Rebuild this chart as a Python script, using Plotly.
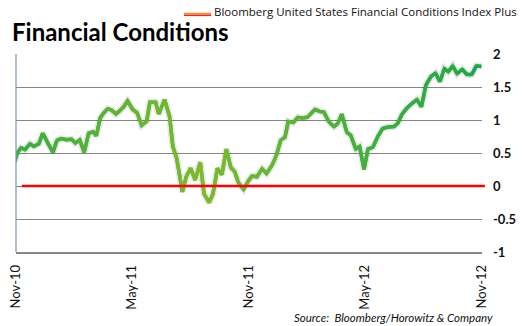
import plotly.graph_objects as go

# Bloomberg US Financial Conditions Index Plus, weekly readings
dates = [
    "2010-10-30", "2010-11-03", "2010-11-09", "2010-11-15", "2010-11-23", "2010-11-29",
    "2010-12-07", "2010-12-13", "2010-12-21", "2010-12-29", "2011-01-04", "2011-01-11",
    "2011-01-19", "2011-01-27", "2011-02-02", "2011-02-09", "2011-02-16", "2011-02-23",
    "2011-03-02", "2011-03-07", "2011-03-13", "2011-03-18", "2011-03-25", "2011-03-31",
    "2011-04-07", "2011-04-14", "2011-04-19", "2011-04-25", "2011-05-03", "2011-05-10",
    "2011-05-17", "2011-05-25", "2011-05-30", "2011-06-08", "2011-06-13", "2011-06-22",
    "2011-06-30", "2011-07-05", "2011-07-11", "2011-07-16", "2011-07-20", "2011-07-26",
    "2011-08-02", "2011-08-09", "2011-08-17", "2011-08-23", "2011-08-31", "2011-09-06",
    "2011-09-13", "2011-09-20", "2011-09-27", "2011-10-04", "2011-10-10", "2011-10-16",
    "2011-10-24", "2011-10-31", "2011-11-06", "2011-11-14", "2011-11-22", "2011-11-29",
    "2011-12-08", "2011-12-15", "2011-12-21", "2011-12-28", "2012-01-02", "2012-01-10",
    "2012-01-17", "2012-01-24", "2012-02-01", "2012-02-07", "2012-02-13", "2012-02-20",
    "2012-02-27", "2012-03-06", "2012-03-14", "2012-03-20", "2012-03-26", "2012-04-03",
    "2012-04-09", "2012-04-17", "2012-04-23", "2012-04-30", "2012-05-06", "2012-05-14",
    "2012-05-21", "2012-05-29", "2012-06-05", "2012-06-16", "2012-06-22", "2012-06-28",
    "2012-07-06", "2012-07-14", "2012-07-22", "2012-07-29", "2012-08-05", "2012-08-13",
    "2012-08-20", "2012-08-27", "2012-09-03", "2012-09-09", "2012-09-16", "2012-09-23",
    "2012-10-01", "2012-10-08", "2012-10-16", "2012-10-23", "2012-10-31",
]
index_values = [
    0.37, 0.50, 0.58, 0.55, 0.64, 0.60,
    0.64, 0.80, 0.65, 0.51, 0.69, 0.72,
    0.70, 0.71, 0.65, 0.70, 0.51, 0.80,
    0.82, 0.76, 1.03, 1.10, 1.17, 1.15,
    1.09, 1.15, 1.20, 1.29, 1.16, 1.11,
    0.92, 0.98, 1.27, 1.27, 1.09, 1.31,
    1.05, 0.60, 0.42, 0.14, -0.09, 0.14,
    0.27, 0.09, 0.36, -0.12, -0.25, -0.12,
    0.27, 0.17, 0.56, 0.28, 0.22, 0.05,
    -0.05, 0.07, 0.15, 0.14, 0.26, 0.19,
    0.32, 0.48, 0.69, 0.74, 0.98, 0.96,
    1.04, 1.03, 1.04, 1.10, 1.16, 1.13,
    1.12, 0.97, 0.90, 0.95, 1.09, 0.81,
    0.77, 0.56, 0.60, 0.25, 0.56, 0.59,
    0.74, 0.87, 0.89, 0.90, 0.95, 1.08,
    1.18, 1.25, 1.31, 1.20, 1.53, 1.66,
    1.71, 1.58, 1.78, 1.73, 1.82, 1.70,
    1.77, 1.69, 1.69, 1.82, 1.81,
]

tick_dates = ["2010-11-01", "2011-05-01", "2011-11-01", "2012-05-01", "2012-11-01"]
tick_labels = ["Nov-10", "May-11", "Nov-11", "May-12", "Nov-12"]
y_ticks = [2, 1.5, 1, 0.5, 0, -0.5, -1]
y_labels = ["2", "1.5", "1", "0.5", "0", "-0.5", "-1"]

W, H = 523, 326
L, R, T, B = 7, 487, 54, 252   # plot area in pixels


def px_x(p):
    return (p - L) / (R - L)


def px_y(p):
    return (B - p) / (B - T)


def mix(c1, c2, t):
    return "#%02x%02x%02x" % tuple(round(a + (b - a) * t) for a, b in zip(c1, c2))


# gradient along the line: green at both ends, yellow-green in the middle
START = (0x36, 0xae, 0x3e)
MIDDLE = (0x80, 0xbb, 0x28)
END = (0x17, 0xa9, 0x4d)


def line_colour(t):
    if t < 0.42:
        return mix(START, MIDDLE, t / 0.42)
    return mix(MIDDLE, END, (t - 0.42) / 0.58)


fig = go.Figure()

# soft shadow beneath the index line
fig.add_trace(go.Scatter(
    x=dates, y=index_values, mode="lines",
    line=dict(color="rgba(0,0,0,0.09)", width=7),
    hoverinfo="skip", showlegend=False,
))
fig.add_trace(go.Scatter(
    x=dates, y=index_values, mode="lines",
    line=dict(color="#4cb236", width=3.5),
    hoverinfo="skip", showlegend=False,
))
n = len(dates)
for i in range(n - 1):
    t = (i + 0.5) / (n - 1)
    fig.add_trace(go.Scatter(
        x=dates[i:i + 2], y=index_values[i:i + 2], mode="lines",
        line=dict(color=line_colour(t), width=3.5),
        hoverinfo="skip", showlegend=False,
    ))

# zero line, left frame line, legend key
fig.add_shape(type="line", xref="paper", yref="y",
              x0=px_x(13), x1=px_x(490), y0=0, y1=0,
              line=dict(color="#ff0000", width=2.5))
fig.add_shape(type="line", xref="paper", yref="paper",
              x0=0, x1=0, y0=0, y1=1,
              line=dict(color="#7796b6", width=1.2))
fig.add_shape(type="line", xref="paper", yref="paper",
              x0=px_x(180), x1=px_x(208), y0=px_y(13.5), y1=px_y(13.5),
              line=dict(color="#f7931e", width=1.6))
fig.add_shape(type="line", xref="paper", yref="paper",
              x0=px_x(180), x1=px_x(208), y0=px_y(15.3), y1=px_y(15.3),
              line=dict(color="#e8281e", width=1.6))

fig.add_annotation(
    text="Bloomberg United States Financial Conditions Index Plus",
    xref="paper", yref="paper", x=px_x(209), y=px_y(11),
    xanchor="left", yanchor="middle", showarrow=False,
    font=dict(family="Open Sans", size=11.5, color="#111111"),
)
fig.add_annotation(
    text="<b>Financial Conditions</b>",
    xref="paper", yref="paper", x=px_x(1), y=px_y(32),
    xanchor="left", yanchor="middle", showarrow=False,
    font=dict(family="Lato", size=24, color="#000000"),
)
fig.add_annotation(
    text="<i>Source:  Bloomberg/Horowitz &amp; Company</i>",
    xref="paper", yref="paper", x=px_x(500), y=px_y(317),
    xanchor="right", yanchor="middle", showarrow=False,
    font=dict(family="Lato", size=11.5, color="#111111"),
)

fig.update_layout(
    width=W, height=H,
    margin=dict(l=L, r=W - R, t=T, b=H - B),
    paper_bgcolor="white", plot_bgcolor="white",
    showlegend=False,
    xaxis=dict(
        type="date", range=["2010-11-01", "2012-11-01"],
        tickvals=tick_dates, ticktext=tick_labels, tickangle=-90,
        showgrid=False, zeroline=False,
        showline=True, linecolor="#868686", linewidth=1.5,
        ticks="", ticklabelstandoff=6, ticklabeloverflow="allow",
        tickfont=dict(family="Lato", size=13, color="#111111"),
    ),
    yaxis=dict(
        range=[-1, 2], side="right",
        tickvals=y_ticks, ticktext=y_labels,
        showgrid=True, gridcolor="#868686", gridwidth=1.2,
        zeroline=False, showline=False, ticks="",
        ticklabelstandoff=10,
        tickfont=dict(family="Lato", size=13, color="#111111", weight="bold"),
    ),
)

fig.write_html("out.html")
